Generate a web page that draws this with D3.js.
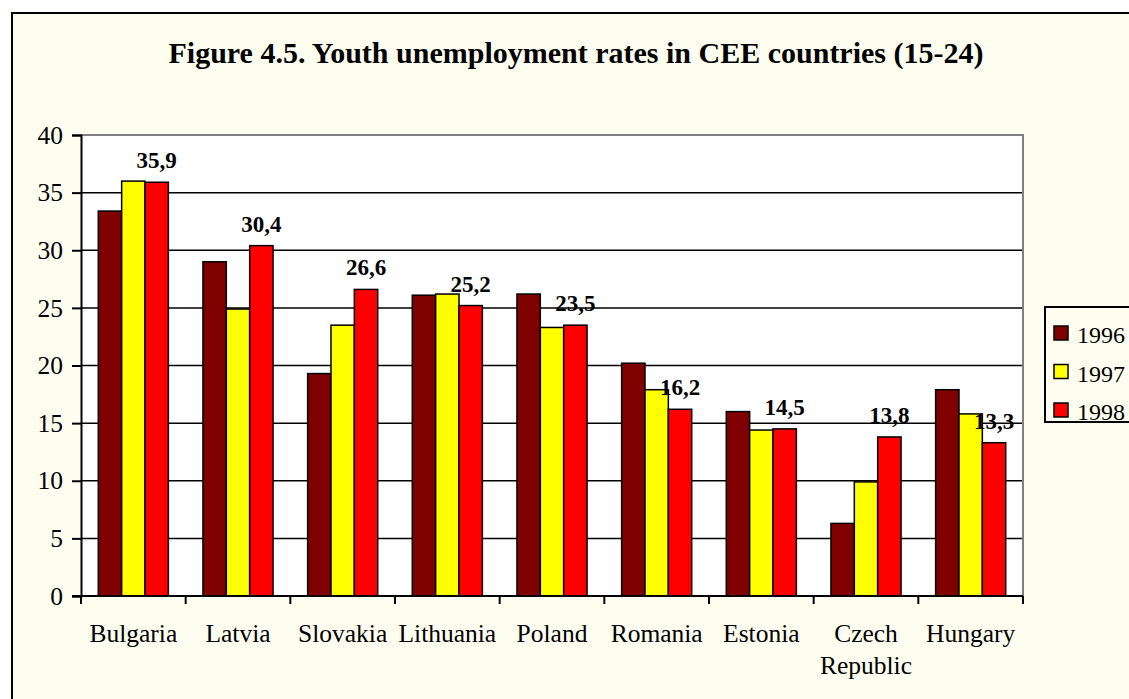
<!DOCTYPE html>
<html>
<head>
<meta charset="utf-8">
<script src="https://cdn.jsdelivr.net/npm/d3@7"></script>
<style>
  html, body { margin: 0; padding: 0; background: #ffffff; }
  svg { display: block; }
  text { font-family: "Liberation Serif", "Times New Roman", serif; fill: #000; }
</style>
</head>
<body>
<svg id="chart" width="1129" height="699"></svg>
<script>
// Youth unemployment rates (15-24), per cent
const countries = ["Bulgaria", "Latvia", "Slovakia", "Lithuania", "Poland", "Romania", "Estonia", "Czech Republic", "Hungary"];
const years = ["1996", "1997", "1998"];
const rates1996 = [33.4, 29.0, 19.3, 26.1, 26.2, 20.2, 16.0, 6.3, 17.9];
const rates1997 = [36.0, 24.9, 23.5, 26.2, 23.3, 17.9, 14.4, 9.9, 15.8];
const rates1998 = [35.9, 30.4, 26.6, 25.2, 23.5, 16.2, 14.5, 13.8, 13.3];
const yTicks = [0, 5, 10, 15, 20, 25, 30, 35, 40];
const seriesColors = ["#800000", "#ffff00", "#ff0000"];

const series = [rates1996, rates1997, rates1998];
const rows = countries.map((c, i) => ({ country: c, values: series.map(s => s[i]) }));

const serif = "'Liberation Serif', 'Times New Roman', serif";
const svg = d3.select("#chart");

// outer chart area
svg.append("rect")
  .attr("x", 12).attr("y", 13)
  .attr("width", 1140).attr("height", 700)
  .attr("fill", "#fefef0")
  .attr("stroke", "#000").attr("stroke-width", 2);

svg.append("text")
  .attr("x", 576).attr("y", 63)
  .attr("text-anchor", "middle")
  .attr("font-size", 30).attr("font-weight", "bold")
  .text("Figure 4.5. Youth unemployment rates in CEE countries (15-24)");

const plot = { left: 81, right: 1023, top: 135, bottom: 596 };

const x = d3.scaleBand().domain(countries).range([plot.left, plot.right]).paddingInner(0).paddingOuter(0);
const xInner = d3.scaleBand().domain(years).range([0, x.bandwidth()]).paddingInner(0).paddingOuter(0.74);
const y = d3.scaleLinear().domain([0, 40]).range([plot.bottom, plot.top]);

// plot background
svg.append("rect")
  .attr("x", plot.left).attr("y", plot.top)
  .attr("width", plot.right - plot.left).attr("height", plot.bottom - plot.top)
  .attr("fill", "#ffffff");

// horizontal gridlines
svg.append("g")
  .selectAll("line")
  .data(yTicks.filter(t => t > 0 && t < 40))
  .join("line")
  .attr("x1", plot.left).attr("x2", plot.right)
  .attr("y1", d => y(d)).attr("y2", d => y(d))
  .attr("stroke", "#000").attr("stroke-width", 1.5);

// plot frame: grey top and right edges
svg.append("path")
  .attr("d", `M${plot.left},${plot.top}H${plot.right}V${plot.bottom}`)
  .attr("fill", "none").attr("stroke", "#808080").attr("stroke-width", 2);

// bars
const groups = svg.append("g")
  .selectAll("g")
  .data(rows)
  .join("g")
  .attr("transform", d => `translate(${x(d.country)},0)`);

groups.selectAll("rect")
  .data(d => d.values.map((v, k) => ({ year: years[k], value: v, k })))
  .join("rect")
  .attr("x", d => xInner(d.year))
  .attr("y", d => y(d.value))
  .attr("width", xInner.bandwidth())
  .attr("height", d => y(0) - y(d.value))
  .attr("fill", d => seriesColors[d.k])
  .attr("stroke", "#000").attr("stroke-width", 1.5);

// value labels above the 1998 bars
groups.append("text")
  .attr("x", xInner("1998") + xInner.bandwidth() / 2)
  .attr("y", d => y(d.values[2]) - 14)
  .attr("text-anchor", "middle")
  .attr("font-size", 23).attr("font-weight", "bold")
  .text(d => d3.format(".1f")(d.values[2]).replace(".", ","));

// y axis
const yAxis = svg.append("g")
  .attr("transform", `translate(${plot.left},0)`)
  .call(d3.axisLeft(y).tickValues(yTicks).tickSize(9).tickPadding(9).tickFormat(d3.format("d")));
yAxis.attr("font-family", null).attr("font-size", null);
yAxis.select(".domain").attr("stroke", "#000").attr("stroke-width", 2);
yAxis.selectAll(".tick line").attr("stroke", "#000").attr("stroke-width", 2);
yAxis.selectAll(".tick text")
  .style("font-family", serif).style("font-size", "25.5px").attr("fill", "#000");

// x axis: ticks on category boundaries
const xAxisG = svg.append("g").attr("transform", `translate(0,${plot.bottom})`);
xAxisG.append("line")
  .attr("x1", plot.left - 9).attr("x2", plot.right)
  .attr("stroke", "#000").attr("stroke-width", 2);
xAxisG.selectAll(".bound")
  .data(countries.map(c => x(c)).concat([plot.right]))
  .join("line")
  .attr("class", "bound")
  .attr("x1", d => d).attr("x2", d => d)
  .attr("y1", 0).attr("y2", 8)
  .attr("stroke", "#000").attr("stroke-width", 2);

const xLabels = xAxisG.selectAll(".xlabel")
  .data(countries)
  .join("text")
  .attr("class", "xlabel")
  .attr("x", d => x(d) + x.bandwidth() / 2)
  .attr("y", 46)
  .attr("text-anchor", "middle")
  .style("font-size", "25.5px");
xLabels.each(function(d) {
  const words = d === "Czech Republic" ? ["Czech", "Republic"] : [d];
  const t = d3.select(this);
  words.forEach((w, i) => {
    t.append("tspan")
      .attr("x", x(d) + x.bandwidth() / 2)
      .attr("dy", i === 0 ? 0 : 31.5)
      .text(w);
  });
});

// legend
const legend = svg.append("g").attr("transform", "translate(1045,307)");
legend.append("rect")
  .attr("x", 0).attr("y", 0).attr("width", 120).attr("height", 115)
  .attr("fill", "#fefef0").attr("stroke", "#000").attr("stroke-width", 2);
const items = legend.selectAll(".item")
  .data(years)
  .join("g")
  .attr("class", "item")
  .attr("transform", (d, i) => `translate(0,${19 + i * 38.5})`);
items.append("rect")
  .attr("x", 9).attr("width", 14).attr("height", 14)
  .attr("fill", (d, i) => seriesColors[i])
  .attr("stroke", "#000").attr("stroke-width", 1.5);
items.append("text")
  .attr("x", 32).attr("y", 17)
  .style("font-size", "24px")
  .text(d => d);
</script>
</body>
</html>
